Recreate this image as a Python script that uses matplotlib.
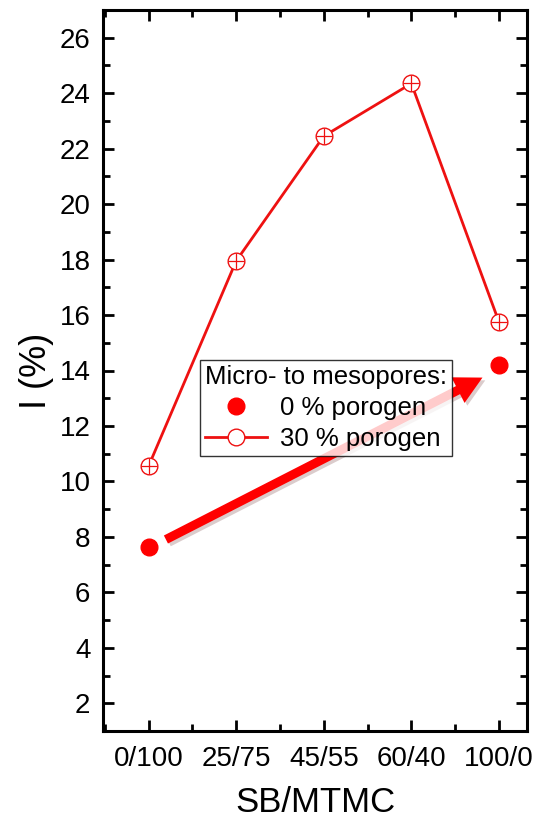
import matplotlib
matplotlib.use("Agg")
import matplotlib.pyplot as plt
import matplotlib.patheffects as pe
from matplotlib.ticker import MultipleLocator

plt.rcParams['font.family'] = ['Liberation Sans', 'DejaVu Sans']

categories = ["0/100", "25/75", "45/55", "60/40", "100/0"]
porogen30 = [10.55, 17.95, 22.45, 24.35, 15.75]
porogen0_x = [0, 4]
porogen0 = [7.65, 14.2]
arrow_start = (0.17, 7.86)
arrow_end = (3.84, 13.79)

fig = plt.figure(figsize=(5.43, 8.26), dpi=100)
ax = fig.add_axes([103/543, 1 - 731/826, (527-103)/543, (731-10)/826])

x = list(range(len(categories)))
red = '#ee1111'
ax.plot(x, porogen30, color=red, lw=2.0, zorder=3)
ax.plot(x, porogen30, 'o', ms=12, mfc='white', mec=red, mew=1.0, zorder=4)
ax.plot(x, porogen30, '+', ms=12, mec=red, mew=0.9, zorder=5)
ax.plot(porogen0_x, porogen0, 'o', ms=12, color='#ff0000', zorder=4)

ax.annotate('', xy=arrow_end, xytext=arrow_start,
            arrowprops=dict(arrowstyle='simple,head_length=1.1,head_width=1.15,tail_width=0.36',
                            mutation_scale=18, color='#ff0000', lw=0,
                            path_effects=[pe.SimplePatchShadow(offset=(2, -2), alpha=0.2), pe.Normal()]),
            zorder=2)

# legend handles
h0, = ax.plot([], [], 'o', ms=12, color='#ff0000')
h30, = ax.plot([], [], '-o', color=red, lw=2.0, ms=12, mfc='white', mec=red, mew=1.0)
leg = ax.legend([h0, h30], ['0 % porogen', '30 % porogen'], title='Micro- to mesopores:',
                loc='upper left', bbox_to_anchor=((200-103)/424, 1 - (360-10)/721),
                fontsize=18.5, title_fontsize=18.5, frameon=True, fancybox=False,
                edgecolor='black', handlelength=2.4, borderpad=0.2, labelspacing=0.25,
                handletextpad=0.5, borderaxespad=0)
leg.get_frame().set_linewidth(1.0)
leg._legend_box.align = 'left'
leg._legend_box.sep = 5

ax.set_xlim(-0.52, 4.32)
ax.set_ylim(1, 27)
ax.set_xticks(x)
ax.set_xticklabels(categories)
ax.xaxis.set_minor_locator(MultipleLocator(0.5))
ax.set_yticks(range(2, 27, 2))
ax.yaxis.set_minor_locator(MultipleLocator(1))

ax.tick_params(which='both', direction='in', top=True, right=True, labelsize=20, width=2)
ax.tick_params(which='major', length=8)
ax.tick_params(which='minor', length=5)
ax.tick_params(axis='x', pad=11)
ax.tick_params(axis='y', pad=9)
for s in ax.spines.values():
    s.set_linewidth(2.2)

ax.set_xlabel('SB/MTMC', fontsize=25, labelpad=10)
ax.set_ylabel('I (%)', fontsize=26, labelpad=4)

fig.savefig('out.png', dpi=100)
